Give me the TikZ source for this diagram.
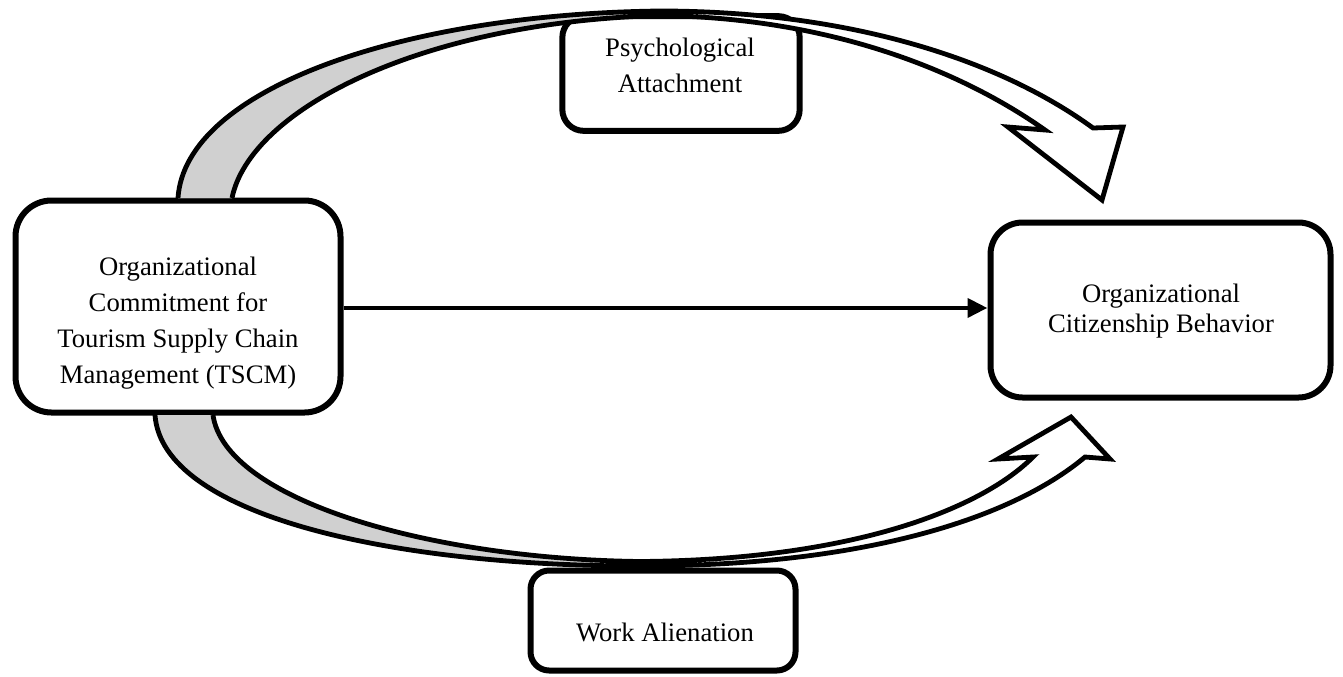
\documentclass[tikz,border=0pt]{standalone}
\usepackage{fontspec}
\setmainfont{Liberation Serif}
\usetikzlibrary{arrows.meta}
\definecolor{ribgrey}{RGB}{208,208,208}
\begin{document}
\begin{tikzpicture}[x=0.75pt,y=-0.75pt,
  box/.style={draw=black,line width=4.5pt,rounded corners=#1,fill=white,inner sep=0pt,rectangle},
  lbl/.style={align=center,inner sep=0pt,font=\fontsize{20pt}{27pt}\selectfont},
  lblb/.style={align=center,inner sep=0pt,font=\fontsize{20pt}{22.5pt}\selectfont},
  ribbon/.style={draw=black,line width=3.6pt,line join=miter,miter limit=10},
  conn/.style={draw=black,line width=3.6pt,-{Triangle[length=15pt,width=14pt]}}]
\useasboundingbox (0,0) rectangle (1343,676);
% boxes
\node[box=27pt,minimum width=243.75pt,minimum height=159pt] (A) at (178,306.5) {};
\node[box=24pt,minimum width=255pt,minimum height=131.25pt] (B) at (1160.5,310) {};
\node[box=16pt,minimum width=178pt,minimum height=86pt] (P) at (681,73.5) {};
\node[box=14pt,minimum width=198.75pt,minimum height=75pt] (W) at (663,620.5) {};
% labels
\node[lbl] (tA) at (178,323) {Organizational\\Commitment for\\Tourism Supply Chain\\Management (TSCM)};
\node[lblb] (tB) at (1161,311) {Organizational\\Citizenship Behavior};
\node[lbl] (tP) at (680,65) {Psychological\\Attachment};
\node[lbl] (tW) at (665,632) {Work Alienation};
% top curved arrow
\fill[white] (178,198) .. controls (185,90) and (400,14) .. (660,11)
  .. controls (850,11) and (1000,60) .. (1093,128)
  -- (1123,127) -- (1102,200) -- (1008,127) -- (1045,130)
  .. controls (960,70) and (830,18) .. (660,15.5)
  .. controls (420,22) and (250,110) .. (232,198) -- cycle;
\fill[ribgrey] (178,198) .. controls (185,90) and (400,14) .. (660,11)
  -- (660,15.5) .. controls (420,22) and (250,110) .. (232,198) -- cycle;
\draw[ribbon] (178,198) .. controls (185,90) and (400,14) .. (660,11)
  .. controls (850,11) and (1000,60) .. (1093,128)
  -- (1123,127) -- (1102,200) -- (1008,127) -- (1045,130)
  .. controls (960,70) and (830,18) .. (660,15.5)
  .. controls (420,22) and (250,110) .. (232,198);
% bottom curved arrow
\fill[white] (155,415) .. controls (162,515) and (390,566) .. (640,566)
  .. controls (860,566) and (1010,520) .. (1085,457)
  -- (1110,459) -- (1071,417) -- (998,459) -- (1033,457)
  .. controls (980,510) and (850,560) .. (640,561.5)
  .. controls (430,559) and (225,500) .. (213,415) -- cycle;
\fill[ribgrey] (155,415) .. controls (162,515) and (390,566) .. (640,566)
  -- (640,561.5) .. controls (430,559) and (225,500) .. (213,415) -- cycle;
\draw[ribbon] (155,415) .. controls (162,515) and (390,566) .. (640,566)
  .. controls (860,566) and (1010,520) .. (1085,457)
  -- (1110,459) -- (1071,417) -- (998,459) -- (1033,457)
  .. controls (980,510) and (850,560) .. (640,561.5)
  .. controls (430,559) and (225,500) .. (213,415);
% direct arrow
\draw[conn] ([yshift=-1.1pt]A.east) -- ([yshift=-1.1pt]A.east -| B.west);
\end{tikzpicture}
\end{document}
